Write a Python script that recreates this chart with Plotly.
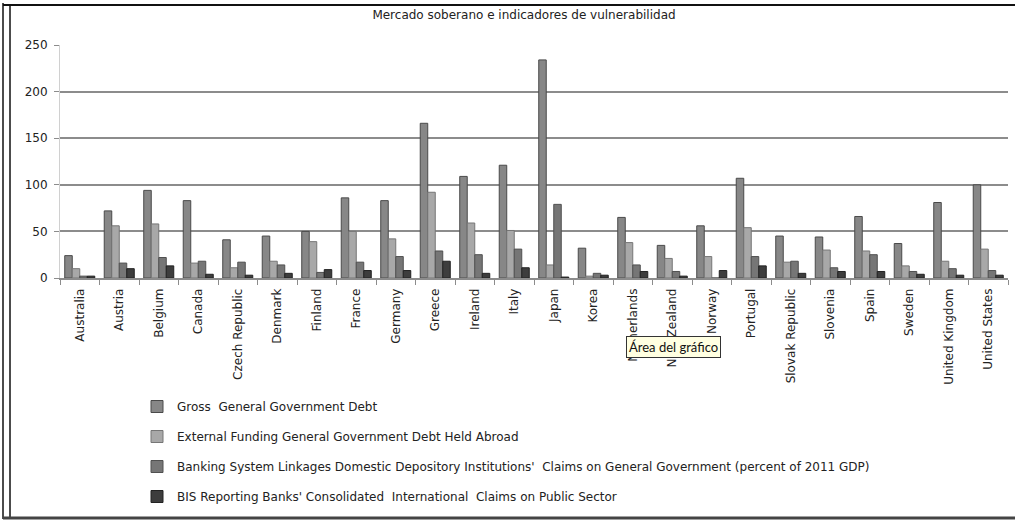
import plotly.graph_objects as go

countries = ["Australia", "Austria", "Belgium", "Canada", "Czech Republic", "Denmark",
             "Finland", "France", "Germany", "Greece", "Ireland", "Italy", "Japan",
             "Korea", "Netherlands", "New Zealand", "Norway", "Portugal",
             "Slovak Republic", "Slovenia", "Spain", "Sweden", "United Kingdom",
             "United States"]

gross_debt = [24, 72, 94, 83, 41, 45, 50, 86, 83, 166, 109, 121, 234, 32, 65, 35,
              56, 107, 45, 44, 66, 37, 81, 100]
external_funding = [10, 56, 58, 16, 11, 18, 39, 50, 42, 92, 59, 51, 14, 2, 38, 21,
                    23, 54, 17, 30, 29, 13, 18, 31]
banking_linkages = [2, 16, 22, 18, 17, 14, 6, 17, 23, 29, 25, 31, 79, 5, 14, 7,
                    0, 23, 18, 11, 25, 7, 10, 8]
bis_claims = [2, 10, 13, 4, 3, 5, 9, 8, 8, 18, 5, 11, 1, 3, 7, 2,
              8, 13, 5, 7, 7, 4, 3, 3]

series_names = [
    "Gross  General Government Debt",
    "External Funding General Government Debt Held Abroad",
    "Banking System Linkages Domestic Depository Institutions'  Claims on General Government (percent of 2011 GDP)",
    "BIS Reporting Banks' Consolidated  International  Claims on Public Sector",
]
series_values = [gross_debt, external_funding, banking_linkages, bis_claims]
fill_colors = ["#878787", "#a8a8a8", "#767676", "#3d3d3d"]
edge_colors = ["#4a4a4a", "#767676", "#505050", "#222222"]

W, H = 1015, 521
ML, MR, MT, MB = 60, 7, 45, 243

fig = go.Figure()
for i, (name, vals) in enumerate(zip(series_names, series_values)):
    fig.add_trace(go.Bar(
        x=countries, y=vals, name=name,
        marker=dict(color=fill_colors[i], line=dict(color=edge_colors[i], width=1)),
        legendgroup=f"g{i}",
    ))

font_family = "'DejaVu Sans', sans-serif"

def px_x(p):
    return (p - ML) / (W - ML - MR)

def px_y(p):
    return 1 - (p - MT) / (H - MT - MB)

fig.update_layout(
    width=W, height=H,
    margin=dict(l=ML, r=MR, t=MT, b=MB),
    paper_bgcolor="white", plot_bgcolor="white",
    barmode="group", bargap=0.24, bargroupgap=0,
    font=dict(family=font_family, size=12, color="#222222"),
    title=dict(text="Mercado soberano e indicadores de vulnerabilidad",
               x=524 / W, xanchor="center", y=1 - 15 / H, yanchor="middle",
               font=dict(size=12, color="#222222", family=font_family)),
    showlegend=True,
    legend=dict(orientation="v", x=px_x(137), xanchor="left",
                y=px_y(392), yanchor="top",
                traceorder="grouped", tracegroupgap=11,
                font=dict(size=12, color="#222222", family=font_family),
                itemwidth=30, bgcolor="rgba(0,0,0,0)"),
    xaxis=dict(type="category", tickangle=-90, ticks="outside", tickson="boundaries",
               ticklen=5, tickcolor="#8c8c8c", showline=True, linecolor="#8c8c8c",
               linewidth=1.5, showgrid=False, ticklabelstandoff=4,
               tickfont=dict(size=12, color="#222222", family=font_family)),
    yaxis=dict(range=[0, 250], tickvals=[0, 50, 100, 150, 200, 250], showgrid=True,
               gridcolor="#8c8c8c", gridwidth=1.5, ticks="outside", ticklen=5,
               tickcolor="#8c8c8c", showline=True, linecolor="#d0d0d0", linewidth=1,
               zeroline=False, ticklabelstandoff=4,
               tickfont=dict(size=12, color="#222222", family=font_family)),
    annotations=[dict(text="Área del gráfico", xref="paper", yref="paper",
                      x=px_x(626), xanchor="left",
                      y=px_y(347), yanchor="middle",
                      showarrow=False, bgcolor="#ffffe1", bordercolor="#333333",
                      borderwidth=1, borderpad=2,
                      font=dict(size=13, color="#111111", family="Lato, sans-serif"))],
)

shapes = [
    dict(type="line", xref="paper", yref="paper", x0=px_x(3), x1=px_x(3), y0=px_y(3), y1=px_y(519),
         line=dict(color="#111111", width=1.5)),
    dict(type="line", xref="paper", yref="paper", x0=px_x(10), x1=px_x(10), y0=px_y(5), y1=px_y(517),
         line=dict(color="#111111", width=1.5)),
    dict(type="line", xref="paper", yref="paper", x0=px_x(3), x1=px_x(1015), y0=px_y(5), y1=px_y(5),
         line=dict(color="#111111", width=2)),
    dict(type="line", xref="paper", yref="paper", x0=px_x(3), x1=px_x(1015), y0=px_y(518), y1=px_y(518),
         line=dict(color="#444444", width=3)),
]
fig.update_layout(shapes=shapes)

fig.write_html("out.html")
